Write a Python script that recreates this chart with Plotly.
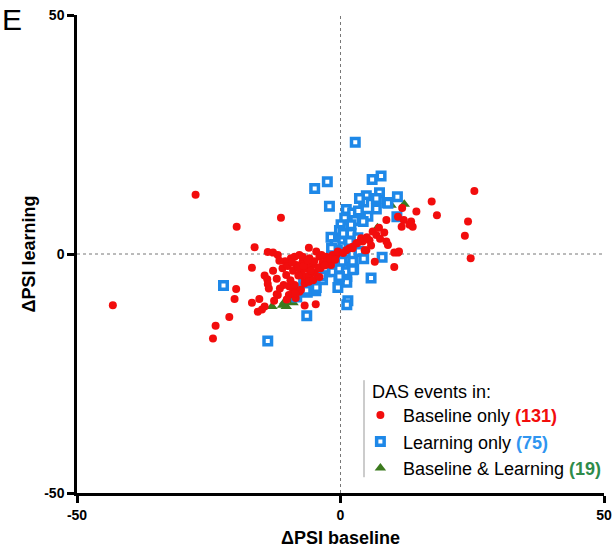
import plotly.graph_objects as go

# ---------------- data ----------------
red_x = [-43.2, -27.5, -19.7, -16.3, -16.8, -19.8, -20.1, -16.8, -15.4, -15.7,
         -21.1, -23.7, -24.2, -11.3, -13.8, -12.8, -11.9, -6.0, -14.4, -13.9,
         -13.8, -12.1, -13.6, -12.1, -14.9, -14.4, -4.7, -9.8, -9.0, -10.3,
         8.7, 11.7, 12.0, 13.4, 13.7, 11.6, 8.3, 6.8, 6.1, 9.0,
         10.2, 10.9, 10.2, 6.5, 4.9, 1.7, 3.0, 3.9, 17.3, 25.4,
         14.4, 18.3, 24.2, 23.6, 24.7, 10.9, 13.1, 8.7, 5.5, 4.2,
         2.3, 1.1, 4.6, 11.1, 7.3, 5.0,
         -9.4, -8.4, -8.7, -7.8, -7.2, -7.5, -6.8, -9.7, -8.7, -7.8,
         -11.9, -4.6, -7.2, -5.9, -4.0, -2.7, -1.5, -0.8, -1.8, -3.4,
         -5.3, -6.5, -7.2, -5.9, -4.9, -6.8, -7.5, 2.3, 3.2,
         -10.5, -11.0, -10.0, -9.0, -8.0, -9.5, -10.8, -11.5, -10.2, -8.5,
         -6.2, -5.0, -3.8, -2.5, -4.2, -5.6, -6.0, -5.2, -4.0, -3.0,
         -2.0, -1.0, -0.5, 0.5, -9.2, -8.0, -7.0, -6.2, -3.6, -8.6,
         -12.8, -11.6, -12.6, -6.8, 5.8, 7.5]
red_y = [-10.7, 12.4, 5.7, 1.4, -2.9, -7.3, -9.4, -10.2, -9.4, -12.1,
         -13.2, -15.0, -17.7, 7.6, 0.4, 0.3, -0.2, 1.3, -4.5, -5.3,
         -6.3, -5.2, -7.2, -8.4, -11.6, -11.0, -10.5, -8.6, -7.5, -4.4,
         7.1, 9.6, 7.1, 6.8, 5.7, 5.7, 4.5, 4.0, 4.7, 1.9,
         0.3, 0.3, -2.7, -1.6, 0.8, 1.2, 2.2, 3.3, 11.0, 13.2,
         8.9, 8.1, 6.8, 3.8, -0.9, 7.8, 6.1, 2.6, 2.9, 2.6,
         1.2, 0.8, 0.8, 0.5, 5.5, 3.5,
         -0.9, -2.3, -0.6, -0.2, -1.6, -3.7, -5.1, -6.8, -6.5, -7.9,
         -8.6, 0.5, -0.6, -0.9, -0.6, -0.6, -0.2, -0.2, -2.3, -1.9,
         -2.3, -3.0, -4.4, -4.4, -4.0, -6.1, -7.5, 1.5, 2.3,
         -1.5, -3.0, -2.5, -3.5, -4.5, -5.5, -6.5, -7.2, -9.5, -9.2,
         -2.0, -1.5, -3.0, -1.5, -2.8, -3.5, -5.8, -5.5, -4.8, -2.4,
         -1.0, -1.2, 0.5, 0.2, -1.8, -2.8, -2.5, -1.3, -0.2, -8.2,
         -3.5, -1.4, -9.8, -10.8, 1.8, 3.2]

blue_x = [2.8, 7.7, 6.0, -2.5, -4.9, -2.1, 7.4, 4.9, 4.4, 6.8,
          8.8, 10.8, 6.8, 5.2, 10.7, 9.0, 1.1, 2.3, 3.4, 0.8,
          2.7, 4.3, 0.1, 1.4, -0.2, 2.0, -1.8, 0.4, 1.7, 3.3,
          0.1, 0.2, -1.0, 3.6, 7.9, 5.8, 2.5, 0.7, 1.2, -0.3,
          1.2, 1.4, 1.2, -2.6, -3.4, -4.9, -4.7, -6.3, -6.4, -13.8,
          -22.2, -1.1, -3.0, -1.5, -0.2, 1.1, 2.3, -0.2, -3.6, -4.6,
          -6.5, 0.3, -0.6, 0.9, -2.2, -5.5, -7.0, 2.3, 3.5, 4.4,
          -8.3, -1.7, 0.5, 2.0, -0.5]
blue_y = [23.4, 16.3, 15.6, 15.1, 13.7, 10.0, 12.8, 12.2, 10.9, 11.6,
          10.8, 12.0, 9.4, 7.9, 7.8, 10.6, 9.3, 8.6, 9.0, 7.5,
          7.0, 6.8, 6.1, 5.6, 4.9, 4.3, 3.5, 3.3, 2.6, 3.4,
          2.6, 1.5, 2.0, 11.6, -0.7, -5.0, -3.2, -2.7, -4.7, -5.4,
          -5.9, -9.8, -10.6, -3.7, -5.4, -6.1, -7.7, -8.0, -12.9, -18.2,
          -6.6, -0.9, -3.0, -3.7, -3.0, -3.7, -3.3, -4.7, -4.6, -7.0,
          -7.6, -1.5, 0.8, 0.3, -1.8, -5.0, -6.0, -1.5, 0.5, -1.0,
          -9.0, 1.2, 4.3, 6.1, -7.0]

green_x = [12.1, 9.6, -13.0, -11.0, -10.6, -10.3, -9.4, -9.0, 0.4, -7.5,
           -5.0, -3.0, 2.0, 4.5, 7.0, -1.5, -6.0, 3.5, -8.2]
green_y = [10.4, 10.2, -11.0, -10.7, -10.0, -11.0, -9.6, -10.2, 0.1, -6.5,
           -4.5, -2.5, 1.5, 3.0, 5.5, -1.0, -6.8, 1.0, -7.2]

series_names = ["Baseline only", "Learning only", "Baseline & Learning"]
series_counts = [131, 75, 19]
tick_vals = [-50, 0, 50]

RED = "#F20D0D"
BLUE = "#1E88E8"
GREEN = "#3B7A1E"
FONT = "Arial, Liberation Sans, sans-serif"

fig = go.Figure()

fig.add_trace(go.Scatter(
    x=green_x, y=green_y, mode="markers",
    name=f"{series_names[2]} <b><span style='color:#2E8B4A'>({series_counts[2]})</span></b>",
    marker=dict(symbol="triangle-up", size=10, color=GREEN),
    legendrank=3))
fig.add_trace(go.Scatter(
    x=blue_x, y=blue_y, mode="markers",
    name=f"{series_names[1]} <b><span style='color:#2F95F0'>({series_counts[1]})</span></b>",
    marker=dict(symbol="square", size=7.5, color="white",
                line=dict(color=BLUE, width=3.5)),
    legendrank=2))
fig.add_trace(go.Scatter(
    x=red_x, y=red_y, mode="markers",
    name=f"{series_names[0]} <b><span style='color:{RED}'>({series_counts[0]})</span></b>",
    marker=dict(symbol="circle", size=8, color=RED),
    legendrank=1))

# dotted zero lines
fig.add_hline(y=0, line=dict(color="#777777", width=1, dash="dot"), layer="below")
fig.add_vline(x=0, line=dict(color="#777777", width=1, dash="dot"), layer="below")

# legend's left rule
fig.add_shape(type="line", xref="paper", yref="paper",
              x0=0.5446, x1=0.5446, y0=0.033, y1=0.236,
              line=dict(color="#999999", width=1))

# legend heading
fig.add_annotation(text="DAS events in:", xref="paper", yref="paper",
                   x=0.556, y=0.211, xanchor="left", yanchor="middle",
                   showarrow=False, font=dict(family=FONT, size=18, color="black"))

fig.add_annotation(text="E", xref="paper", yref="paper", x=-0.146, y=0.9916,
                   xanchor="left", yanchor="middle", showarrow=False,
                   font=dict(family=FONT, size=30, color="black"))

axis_common = dict(
    range=[-50, 50], tickvals=tick_vals, ticktext=[str(v) for v in tick_vals],
    showline=True, linecolor="black", linewidth=2.5, mirror=False,
    ticks="outside", ticklen=7, tickwidth=2.5, tickcolor="black",
    showgrid=False, zeroline=False, automargin=False,
    tickfont=dict(family=FONT, size=14, color="black", weight="bold"),
)

fig.update_layout(
    width=616, height=548,
    margin=dict(l=77, r=12, t=15, b=55, autoexpand=False),
    plot_bgcolor="white", paper_bgcolor="white",
    font=dict(family=FONT, color="black"),
    xaxis=dict(**axis_common,
               title=dict(text="ΔPSI baseline", standoff=14,
                          font=dict(family=FONT, size=18, color="black", weight="bold"))),
    yaxis=dict(**axis_common,
               title=dict(text="ΔPSI learning", standoff=4,
                          font=dict(family=FONT, size=18, color="black", weight="bold"))),
    legend=dict(
        x=0.533, y=0.201, xanchor="left", yanchor="top",
        bgcolor="rgba(0,0,0,0)", borderwidth=0,
        font=dict(family=FONT, size=18, color="black"),
        tracegroupgap=0, itemsizing="trace", itemwidth=35,
    ),
    showlegend=True,
)

fig.write_html("out.html", config={"displayModeBar": False},
               post_script="document.body.style.margin='0';document.body.style.overflow='hidden';")
